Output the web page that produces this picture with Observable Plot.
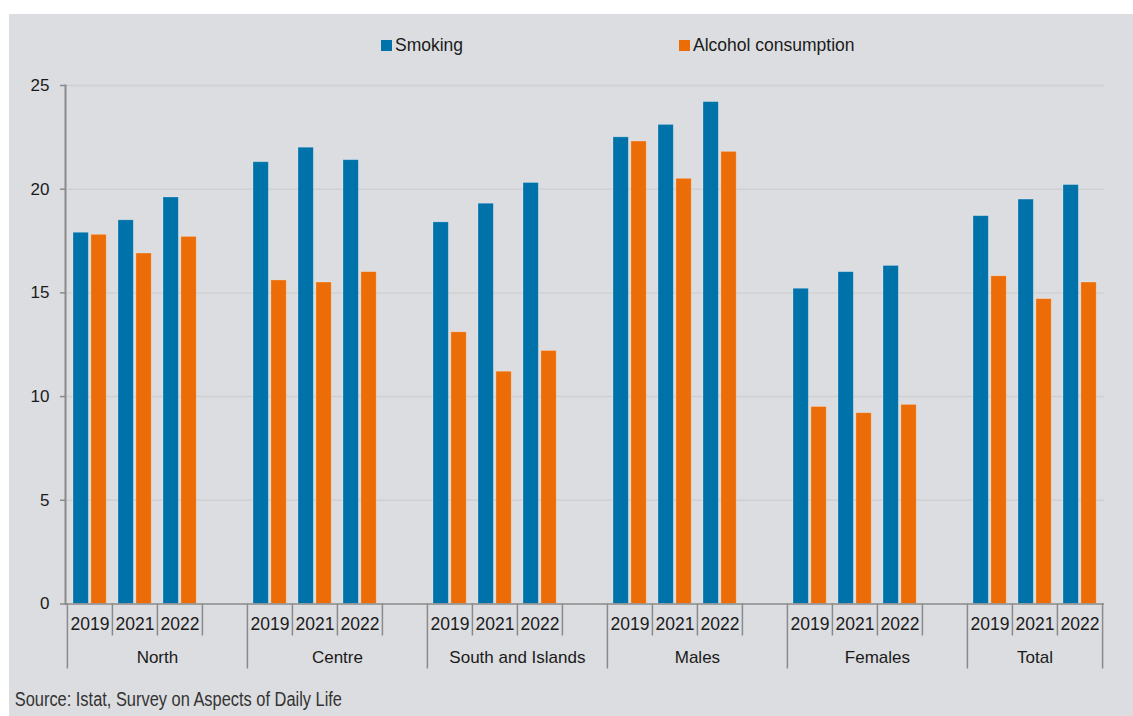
<!DOCTYPE html>
<html>
<head>
<meta charset="utf-8">
<script src="https://cdn.jsdelivr.net/npm/d3@7"></script>
<script src="https://cdn.jsdelivr.net/npm/@observablehq/plot@0.6"></script>
<style>
  html, body { margin: 0; padding: 0; background: #ffffff; }
  #panel {
    position: absolute; left: 9px; top: 14px; width: 1124px; height: 702px;
    background: #dcdde0; color: #1a1a1a; overflow: hidden;
    font-family: "Liberation Sans", Arial, Helvetica, sans-serif;
  }
  #legend { position: relative; height: 56px; }
  #legend .item {
    position: absolute; top: 20px; display: flex; align-items: center;
    font-size: 17.5px; line-height: 22px; white-space: nowrap;
  }
  #legend .swatch { width: 11px; height: 11px; margin-right: 3px; }
  #chart svg { display: block; }
  #caption {
    padding-top: 13px; padding-left: 7px; font-size: 20px; line-height: 24px;
    transform: scaleX(0.82); transform-origin: 0 0; white-space: nowrap; color: #333;
  }
</style>
</head>
<body>
<div id="panel">
  <div id="legend"></div>
  <div id="chart"></div>
  <div id="caption">Source: Istat, Survey on Aspects of Daily Life</div>
</div>
<script>
// People aged 14+ by behaviour at risk (%), by area and sex
const groups = ["North", "Centre", "South and Islands", "Males", "Females", "Total"];
const years = ["2019", "2021", "2022"];
const smoking = [
  [17.9, 18.5, 19.6],
  [21.3, 22.0, 21.4],
  [18.4, 19.3, 20.3],
  [22.5, 23.1, 24.2],
  [15.2, 16.0, 16.3],
  [18.7, 19.5, 20.2]
];
const alcohol = [
  [17.8, 16.9, 17.7],
  [15.6, 15.5, 16.0],
  [13.1, 11.2, 12.2],
  [22.3, 20.5, 21.8],
  [9.5, 9.2, 9.6],
  [15.8, 14.7, 15.5]
];
const seriesNames = ["Smoking", "Alcohol consumption"];
const seriesColors = ["#0072aa", "#ec6d07"];
const yTicks = [0, 5, 10, 15, 20, 25];

// One band per year, plus an empty band closing every group but the last
const key = (g, y) => g + "|" + y;
const slots = [];
groups.forEach((g, i) => {
  years.forEach(y => slots.push(key(g, y)));
  if (i < groups.length - 1) slots.push(key(g, ""));
});

const rows = [];
groups.forEach((g, i) => years.forEach((y, j) => {
  rows.push({group: g, year: y, key: key(g, y), series: seriesNames[0], value: smoking[i][j]});
  rows.push({group: g, year: y, key: key(g, y), series: seriesNames[1], value: alcohol[i][j]});
}));

// Legend
const legend = document.getElementById("legend");
const legendLeft = [372, 670];
seriesNames.forEach((name, i) => {
  const item = document.createElement("div");
  item.className = "item";
  item.style.left = legendLeft[i] + "px";
  item.innerHTML = `<span class="swatch" style="background:${seriesColors[i]}"></span><span>${name}</span>`;
  legend.appendChild(item);
});

// Geometry
const W = 1124, H = 604, mL = 56, mR = 29, mT = 15, mB = 70.5;
const bw = (W - mL - mR) / slots.length;
const outer = 6, barW = 15.5, gap = 2.4;
const axisGray = "#8a8a8a";

const yearKeys = rows.filter(d => d.series === seriesNames[0]).map(d => d.key);
const innerSeps = [];
const groupSeps = [];
groups.forEach((g, i) => {
  groupSeps.push(key(g, years[0]));
  innerSeps.push(key(g, years[1]), key(g, years[2]));
  if (i < groups.length - 1) innerSeps.push(key(g, ""));
});
const lastKey = key(groups[groups.length - 1], years[years.length - 1]);
const wideGroups = groups.slice(0, -1);
const lastGroup = groups.slice(-1);

const chart = Plot.plot({
  width: W,
  height: H,
  marginLeft: mL,
  marginRight: mR,
  marginTop: mT,
  marginBottom: mB,
  style: {
    background: "transparent",
    fontFamily: "'Liberation Sans', Arial, Helvetica, sans-serif",
    fontSize: "17.5px",
    color: "#1a1a1a",
    overflow: "visible"
  },
  x: {type: "band", domain: slots, padding: 0, label: null},
  y: {domain: [0, 25], label: null},
  marks: [
    Plot.gridY(yTicks.filter(t => t > 0), {stroke: "#cfd0d3", strokeOpacity: 1, strokeWidth: 1.5}),
    Plot.barY(rows.filter(d => d.series === seriesNames[0]), {
      x: "key", y: "value", fill: seriesColors[0],
      insetLeft: outer, insetRight: bw - outer - barW,
      stroke: "#ffffff", strokeOpacity: 0.3, strokeWidth: 0.8
    }),
    Plot.barY(rows.filter(d => d.series === seriesNames[1]), {
      x: "key", y: "value", fill: seriesColors[1],
      insetLeft: outer + barW + gap, insetRight: bw - outer - 2 * barW - gap,
      stroke: "#ffffff", strokeOpacity: 0.3, strokeWidth: 0.8
    }),
    Plot.ruleY([0], {stroke: axisGray, strokeWidth: 1.5}),
    Plot.frame({anchor: "left", stroke: axisGray, strokeWidth: 2}),
    Plot.axisY(yTicks, {label: null, tickSize: 5, tickPadding: 11, stroke: axisGray, strokeWidth: 1.5, fontSize: 17, fill: "#1a1a1a"}),
    // year labels
    Plot.axisX(yearKeys, {label: null, tickSize: 0, tickPadding: 13.4, tickFormat: k => k.split("|")[1], fill: "#1a1a1a"}),
    // short separators between years
    Plot.axisX(innerSeps, {label: null, tickSize: 32, tickFormat: () => "", dx: -bw / 2, stroke: axisGray, strokeWidth: 1.5}),
    // long separators between groups
    Plot.axisX(groupSeps, {label: null, tickSize: 65, tickFormat: () => "", dx: -bw / 2, stroke: axisGray, strokeWidth: 1.5}),
    Plot.axisX([lastKey], {label: null, tickSize: 65, tickFormat: () => "", dx: bw / 2, stroke: axisGray, strokeWidth: 1.5}),
    // group labels
    Plot.text(wideGroups, {x: g => key(g, years[2]), frameAnchor: "bottom", dx: -bw / 2, dy: 53.5, lineAnchor: "middle", fontSize: 17, fill: "#1a1a1a"}),
    Plot.text(lastGroup, {x: g => key(g, years[1]), frameAnchor: "bottom", dy: 53.5, lineAnchor: "middle", fontSize: 17, fill: "#1a1a1a"})
  ]
});
document.getElementById("chart").appendChild(chart);
</script>
</body>
</html>
